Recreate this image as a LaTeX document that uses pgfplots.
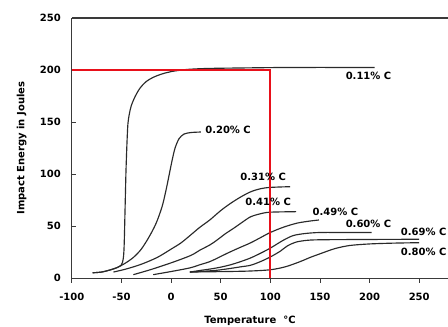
\documentclass[border=0pt]{standalone}
\usepackage{pgfplots}
\pgfplotsset{compat=1.18}
\usepackage{fontspec}
\setmainfont{DejaVu Sans}
\definecolor{crv}{HTML}{2A2A2A}
\definecolor{axc}{HTML}{3A3A3A}
\definecolor{rl}{HTML}{E8101A}
\newcommand\lab{\fontsize{10}{12}\selectfont\bfseries}
\begin{document}
\begin{tikzpicture}
\begin{axis}[
  name=ax,
  scale only axis,
  width=376.2pt, height=260.3pt,
  xmin=-100, xmax=279, ymin=0, ymax=250,
  axis x line*=bottom, axis y line*=left,
  axis line style={-, color=axc, line width=1.2pt},
  xtick={-100,-50,...,250}, ytick={0,50,...,250},
  tick align=inside,
  major tick length=4.5pt,
  tick style={color=axc, line width=0.9pt},
  x tick style={yshift=-4.5pt},
  /pgf/number format/assume math mode=true,
  tick label style={font=\lab},
  yticklabel style={xshift=-7.5pt},
  xticklabel style={yshift=-11pt},
  xlabel={Temperature~~°C},
  ylabel={Impact Energy in Joules},
  label style={font=\lab},
  xlabel style={at={(axis description cs:0.4737,0)}, anchor=center, yshift=-42.7pt},
  ylabel style={at={(axis description cs:-0.1332,0.5)}, anchor=center},
  clip=false,
  crvs/.style={color=crv, line width=1.15pt, smooth, mark=none},
  reds/.style={color=rl, line width=2pt, mark=none, sharp plot},
]
\draw[color=axc, line width=1.2pt] (rel axis cs:0,1) -- (rel axis cs:1,1);
% 0.11% C
\addplot[crvs] coordinates {(-79,5.3) (-70,6) (-61.5,8) (-54,10.5) (-50,13) (-48.3,18) (-47.5,26) (-47,40) (-46.5,60) (-46,80) (-45.5,100) (-45,115) (-44.2,135) (-43.4,149) (-42,158) (-40,166) (-36,175) (-31,183) (-25,189) (-18,193) (-10,196) (0,198.5) (15,200.5) (35,201.5) (70,202) (120,202.5) (205,202.5)};
% 0.20% C
\addplot[crvs] coordinates {(-79,5.3) (-70,6) (-61.5,8) (-55,10) (-47,14) (-38,20) (-30,28) (-22,40) (-15,53) (-9,69) (-5,85) (-2,99) (1,113) (4,125) (8,134) (13,138.5) (20,140) (30,140.5)};
% 0.31% C
\addplot[crvs] coordinates {(-58,6) (-45,9) (-30,13.5) (-14,20) (0,28) (10,34) (19,41) (29,49) (39,56) (50,65) (60,72) (70,78) (80,83) (90,86) (100,87.3) (120,88)};
% 0.41% C
\addplot[crvs] coordinates {(-38,3.5) (-20,8.5) (2,15.5) (20,22) (29,27) (39,32) (46,36.5) (55,43) (63,48) (72,54) (80,59) (90,62) (100,63.5) (126,64)};
% 0.49% C
\addplot[crvs] coordinates {(-18,3.5) (0,6.5) (19,10) (29,13) (39,16) (48,20) (56.5,24) (68,29) (80,34) (90,39) (100,44) (113,49) (127,53) (140,55) (149,56)};
% 0.60% C
\addplot[crvs] coordinates {(19,6) (29,7.5) (40,9) (49.5,10.6) (60,13) (70,16) (80,19.5) (90,24) (100,29) (113,36.5) (123,41) (135,43) (150,44) (175,44) (202,44)};
% 0.69% C
\addplot[crvs] coordinates {(19,6) (30,6.6) (46,7.7) (60,9.5) (70,11) (80,12.5) (90,16) (100,20.5) (110,26) (117,31) (125,34.5) (135,36.3) (150,37) (200,37.3) (250,37.5)};
% 0.80% C
\addplot[crvs] coordinates {(19,6) (40,6.3) (56.5,6.5) (80,7) (100,8.2) (115,11) (130,16) (140,20) (150,23.5) (165,28.5) (180,31.5) (200,33) (225,33.8) (250,34.2)};
% red guide lines
\addplot[reds] coordinates {(-100,200) (100,200)};
\addplot[reds] coordinates {(100,201) (100,0)};
\node[anchor=west, font=\lab, inner sep=0pt] at (axis cs:175.8,194.2) {0.11\% C};
\node[anchor=west, font=\lab, inner sep=0pt] at (axis cs:34.3,142.3) {0.20\% C};
\node[anchor=west, font=\lab, inner sep=0pt] at (axis cs:69.7,97.1) {0.31\% C};
\node[anchor=west, font=\lab, inner sep=0pt] at (axis cs:74.7,73.1) {0.41\% C};
\node[anchor=west, font=\lab, inner sep=0pt] at (axis cs:142.4,63.5) {0.49\% C};
\node[anchor=west, font=\lab, inner sep=0pt] at (axis cs:175.8,51.9) {0.60\% C};
\node[anchor=west, font=\lab, inner sep=0pt] at (axis cs:231.3,44.2) {0.69\% C};
\node[anchor=west, font=\lab, inner sep=0pt] at (axis cs:231.3,25) {0.80\% C};
\end{axis}
\pgfresetboundingbox
\path[use as bounding box] ([xshift=-71.8pt,yshift=-48.7pt]ax.south west) rectangle ([yshift=18pt]ax.north east);
\end{tikzpicture}
\end{document}
